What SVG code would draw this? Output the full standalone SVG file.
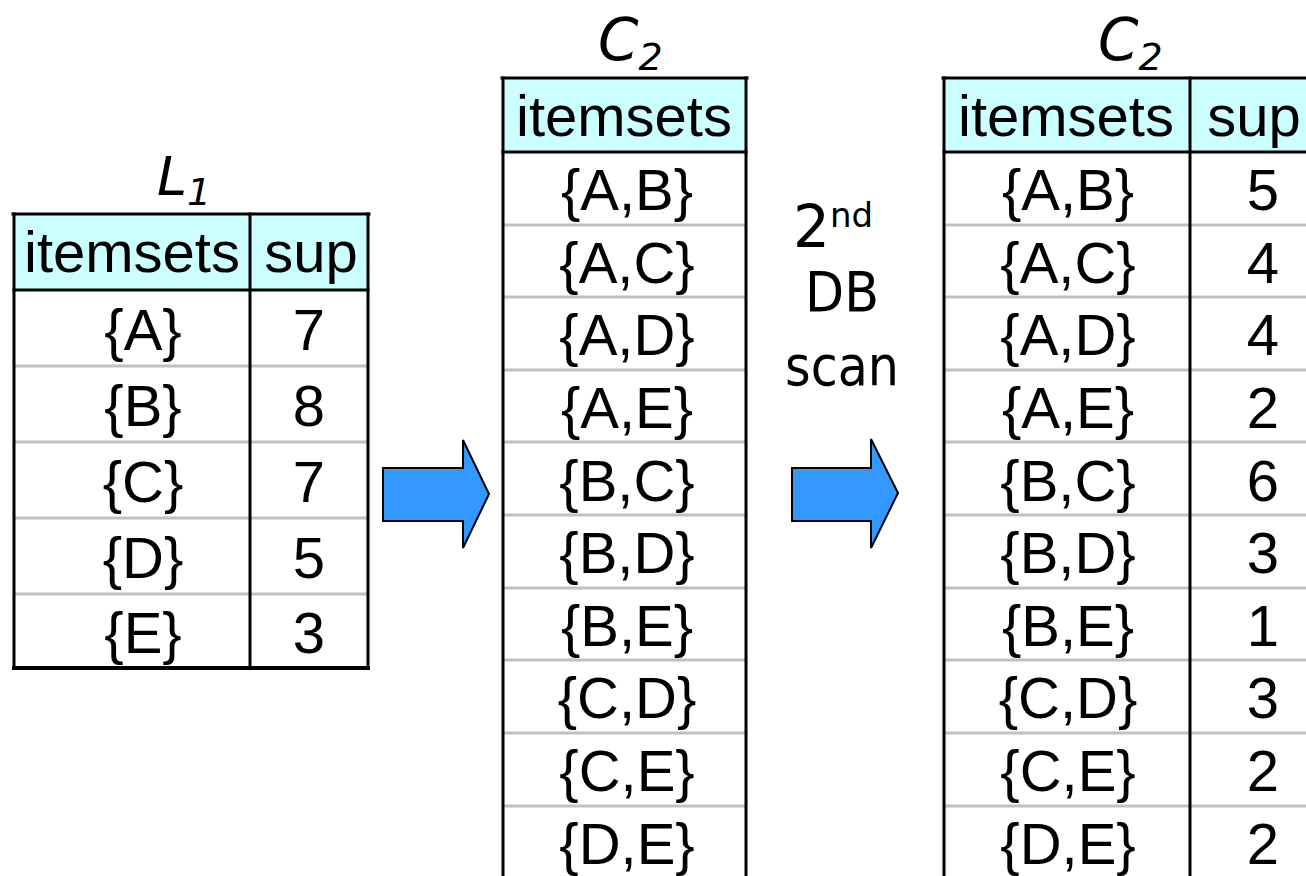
<svg xmlns="http://www.w3.org/2000/svg" width="1306" height="876" viewBox="0 0 1306 876">
<style>
.bg{fill:#ffffff}
.hdr{fill:#ccffff}
.border{stroke:#000;stroke-width:3;fill:none;stroke-linecap:square}
.sep{stroke:#c0c0c0;stroke-width:3}
.t{font-family:"Liberation Sans",Arial,sans-serif;font-size:58px;fill:#000;text-anchor:middle}
.title{font-family:"DejaVu Sans",Verdana,sans-serif;font-style:italic;fill:#000}
.lbl{font-family:"DejaVu Sans",Verdana,sans-serif;fill:#000}
.arrow{fill:#3399ff;stroke:#000;stroke-width:2;stroke-linejoin:miter}
</style>
<rect class="bg" x="0" y="0" width="1306" height="876"/>

<g id="L1">
  <text class="title" x="157" y="195" font-size="54">L<tspan font-size="38" dy="10">1</tspan></text>
  <rect class="hdr" x="14" y="214" width="354" height="76"/>
  <g class="sep">
    <line x1="14" y1="366" x2="368" y2="366"/>
    <line x1="14" y1="442" x2="368" y2="442"/>
    <line x1="14" y1="518" x2="368" y2="518"/>
    <line x1="14" y1="594" x2="368" y2="594"/>
  </g>
  <g class="border">
    <line x1="13" y1="214" x2="369" y2="214"/>
    <line x1="14" y1="290" x2="368" y2="290"/>
    <line x1="14" y1="214" x2="14" y2="668"/>
    <line x1="368" y1="214" x2="368" y2="668"/>
    <line x1="250" y1="214" x2="250" y2="668"/>
    <line x1="14" y1="668" x2="368" y2="668" stroke-width="4"/>
  </g>
  <text class="t" x="132" y="272">itemsets</text>
  <text class="t" x="311" y="272">sup</text>
  <text class="t" x="143" y="350">{A}</text><text class="t" x="309" y="350">7</text>
  <text class="t" x="143" y="426">{B}</text><text class="t" x="309" y="426">8</text>
  <text class="t" x="143" y="502">{C}</text><text class="t" x="309" y="502">7</text>
  <text class="t" x="143" y="578">{D}</text><text class="t" x="309" y="578">5</text>
  <text class="t" x="143" y="653">{E}</text><text class="t" x="309" y="653">3</text>
</g>

<g id="C2a">
  <text class="title" x="598" y="60" font-size="58">C<tspan font-size="38" dy="10">2</tspan></text>
  <rect class="hdr" x="503" y="78" width="243" height="74"/>
  <g class="sep">
    <line x1="503" y1="225" x2="746" y2="225"/>
    <line x1="503" y1="297" x2="746" y2="297"/>
    <line x1="503" y1="370" x2="746" y2="370"/>
    <line x1="503" y1="442" x2="746" y2="442"/>
    <line x1="503" y1="515" x2="746" y2="515"/>
    <line x1="503" y1="588" x2="746" y2="588"/>
    <line x1="503" y1="660" x2="746" y2="660"/>
    <line x1="503" y1="733" x2="746" y2="733"/>
    <line x1="503" y1="806" x2="746" y2="806"/>
  </g>
  <g class="border">
    <line x1="502" y1="78" x2="747" y2="78"/>
    <line x1="503" y1="152" x2="746" y2="152"/>
    <line x1="503" y1="78" x2="503" y2="880"/>
    <line x1="746" y1="78" x2="746" y2="880"/>
  </g>
  <text class="t" x="624" y="136">itemsets</text>
  <text class="t" x="627" y="210">{A,B}</text>
  <text class="t" x="627" y="283">{A,C}</text>
  <text class="t" x="627" y="355">{A,D}</text>
  <text class="t" x="627" y="428">{A,E}</text>
  <text class="t" x="627" y="501">{B,C}</text>
  <text class="t" x="627" y="573">{B,D}</text>
  <text class="t" x="627" y="646">{B,E}</text>
  <text class="t" x="627" y="718">{C,D}</text>
  <text class="t" x="627" y="791">{C,E}</text>
  <text class="t" x="627" y="864">{D,E}</text>
</g>

<g id="scanlabel">
  <text class="lbl" x="793" y="247" font-size="58">2<tspan font-size="34" dy="-20">nd</tspan></text>
  <text class="lbl" x="842" y="311" font-size="56" text-anchor="middle" textLength="74" lengthAdjust="spacingAndGlyphs">DB</text>
  <text class="lbl" x="842" y="385" font-size="56" text-anchor="middle" textLength="114" lengthAdjust="spacingAndGlyphs">scan</text>
</g>

<g id="C2b">
  <text class="title" x="1098" y="60" font-size="58">C<tspan font-size="38" dy="10">2</tspan></text>
  <rect class="hdr" x="944" y="78" width="380" height="74"/>
  <g class="sep">
    <line x1="944" y1="225" x2="1310" y2="225"/>
    <line x1="944" y1="297" x2="1310" y2="297"/>
    <line x1="944" y1="370" x2="1310" y2="370"/>
    <line x1="944" y1="442" x2="1310" y2="442"/>
    <line x1="944" y1="515" x2="1310" y2="515"/>
    <line x1="944" y1="588" x2="1310" y2="588"/>
    <line x1="944" y1="660" x2="1310" y2="660"/>
    <line x1="944" y1="733" x2="1310" y2="733"/>
    <line x1="944" y1="806" x2="1310" y2="806"/>
  </g>
  <g class="border">
    <line x1="943" y1="78" x2="1310" y2="78"/>
    <line x1="944" y1="152" x2="1310" y2="152"/>
    <line x1="944" y1="78" x2="944" y2="880"/>
    <line x1="1190" y1="78" x2="1190" y2="880"/>
  </g>
  <text class="t" x="1066" y="136">itemsets</text>
  <text class="t" x="1254" y="136">sup</text>
  <text class="t" x="1068" y="210">{A,B}</text><text class="t" x="1263" y="210">5</text>
  <text class="t" x="1068" y="283">{A,C}</text><text class="t" x="1263" y="283">4</text>
  <text class="t" x="1068" y="355">{A,D}</text><text class="t" x="1263" y="355">4</text>
  <text class="t" x="1068" y="428">{A,E}</text><text class="t" x="1263" y="428">2</text>
  <text class="t" x="1068" y="501">{B,C}</text><text class="t" x="1263" y="501">6</text>
  <text class="t" x="1068" y="573">{B,D}</text><text class="t" x="1263" y="573">3</text>
  <text class="t" x="1068" y="646">{B,E}</text><text class="t" x="1263" y="646">1</text>
  <text class="t" x="1068" y="718">{C,D}</text><text class="t" x="1263" y="718">3</text>
  <text class="t" x="1068" y="791">{C,E}</text><text class="t" x="1263" y="791">2</text>
  <text class="t" x="1068" y="864">{D,E}</text><text class="t" x="1263" y="864">2</text>
</g>

<g id="connectors">
  <path class="arrow" d="M383,468 L463,468 L463,440 L489,494 L463,548 L463,521 L383,521 Z"/>
  <path class="arrow" d="M792,468 L871,468 L871,439 L898,493 L871,548 L871,521 L792,521 Z"/>
</g>
</svg>
